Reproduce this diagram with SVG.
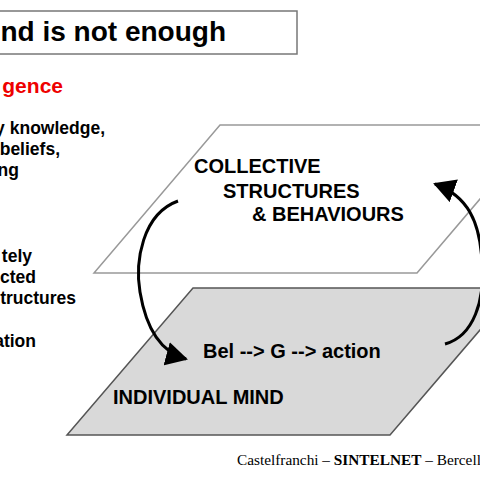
<svg xmlns="http://www.w3.org/2000/svg" width="480" height="480" viewBox="0 0 480 480">
<style>
.b{font-family:"Liberation Sans",Arial,sans-serif;font-weight:bold;fill:#000}
.t17{font-size:17.5px}
.t20{font-size:20px}
.conn{fill:none;stroke:#000;stroke-width:3}
</style>
<defs>
<marker id="ah" markerUnits="userSpaceOnUse" markerWidth="22" markerHeight="24" viewBox="0 0 22 24" refX="20" refY="12" orient="auto">
<path d="M0,0 L22,12 L0,24 z" fill="#000"/>
</marker>
</defs>
<rect width="480" height="480" fill="#fff"/>
<g id="title">
<rect x="-10" y="11" width="307" height="43" fill="#fff" stroke="#777" stroke-width="1.5"/>
<text class="b" x="226" y="41" font-size="28" text-anchor="end">nd is not enough</text>
</g>
<g id="subtitle">
<text class="b" x="63" y="93" font-size="21" text-anchor="end" style="fill:#ee0000">gence</text>
</g>
<g id="left-text" class="b t17" text-anchor="end">
<text x="105" y="134">y knowledge,</text>
<text x="60" y="155">beliefs,</text>
<text x="19" y="176">ng</text>
<text x="32" y="262">tely</text>
<text x="36" y="283">cted</text>
<text x="76" y="304">tructures</text>
<text x="36" y="347">ation</text>
</g>
<g id="individual-mind">
<polygon points="193,288 516,288 390,435 67,435" fill="#d9d9d9" stroke="#555" stroke-width="1.5"/>
<text class="b t20" x="113" y="404">INDIVIDUAL MIND</text>
<text class="b t20" x="203" y="358">Bel --&gt; G --&gt; action</text>
</g>
<g id="collective">
<polygon points="220,125 543,125 417,273 94,273" fill="#fff" stroke="#999" stroke-width="1.5"/>
<text class="b t20" x="194" y="173">COLLECTIVE</text>
<text class="b t20" x="223" y="198">STRUCTURES</text>
<text class="b t20" x="252" y="221">&amp; BEHAVIOURS</text>
</g>
<g id="connectors">
<path class="conn" d="M178,201 C142,214 135,262 140,292 C146,328 160,352 186,359" marker-end="url(#ah)"/>
<path class="conn" d="M445,344 C474,336 485,300 482,262 C480,222 468,196 435,184" marker-end="url(#ah)"/>
</g>
<g id="footer">
<text x="237" y="465" font-family="'Liberation Serif','Times New Roman',serif" font-size="15.3">Castelfranchi – <tspan font-weight="bold">SINTELNET</tspan>  – Bercell</text>
</g>
</svg>
